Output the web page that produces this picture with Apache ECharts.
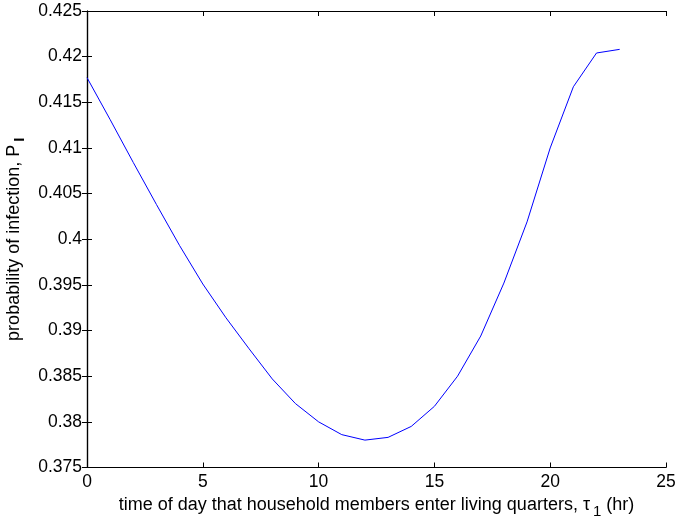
<!DOCTYPE html>
<html>
<head>
<meta charset="utf-8">
<script src="https://cdn.jsdelivr.net/npm/echarts@6/dist/echarts.min.js"></script>
<style>html,body{margin:0;padding:0;background:#fff}#c{width:675px;height:519px}</style>
</head>
<body>
<div id="c"></div>
<script>
const hours = [0,1,2,3,4,5,6,7,8,9,10,11,12,13,14,15,16,17,18,19,20,21,22,23];
const probInfection = [0.4177,0.4131,0.4084,0.4038,0.3993,0.3951,0.3914,0.3880,0.3847,0.3820,0.3800,0.3786,0.3780,0.3783,0.3795,0.3817,0.3850,0.3894,0.3952,0.4019,0.4100,0.4167,0.4204,0.4208];
const xTicks = [0,5,10,15,20,25];
const yTicks = [0.375,0.38,0.385,0.39,0.395,0.4,0.405,0.41,0.415,0.42,0.425];

const font = 'Liberation Sans, Arial, Helvetica, sans-serif';
const chart = echarts.init(document.getElementById('c'));
const tickStyle = {show:true, inside:true, length:5, lineStyle:{color:'#000', width:1}};
chart.setOption({
  animation:false,
  backgroundColor:'#fff',
  grid:{left:87, top:11, right:9, bottom:51.5, containLabel:false, outerBoundsMode:'none'},
  xAxis:[{
    type:'value', min:0, max:25, interval:5,
    axisLine:{show:true, onZero:false, lineStyle:{color:'#000', width:1.2}},
    axisTick:tickStyle, splitLine:{show:false},
    axisLabel:{color:'#000', fontSize:17.5, fontFamily:font, margin:6,
      formatter:v=>xTicks.includes(v)?String(v):''},
    name:'{t|time of day that household members enter living quarters, τ}{s|1}{t| (hr)}',
    nameLocation:'middle', nameGap:24,
    nameTextStyle:{rich:{t:{fontSize:18, fontFamily:font, color:'#000'}, s:{fontSize:15, fontFamily:font, color:'#000', padding:[12,0,0,3]}}}
  },{
    type:'value', position:'top', min:0, max:25, interval:5,
    axisLine:{show:true, lineStyle:{color:'#000', width:1.2}},
    axisTick:tickStyle, axisLabel:{show:false}, splitLine:{show:false}
  }],
  yAxis:[{
    type:'value', min:0.375, max:0.425, interval:0.005,
    axisLine:{show:true, onZero:false, lineStyle:{color:'#000', width:1.2}},
    axisTick:tickStyle, splitLine:{show:false},
    axisLabel:{color:'#000', fontSize:17.5, fontFamily:font, margin:5,
      formatter:v=>{const r=Math.round(v*1000)/1000; return yTicks.includes(r)?String(r):'';}},
    name:'{t|probability of infection, P}{s|I}',
    nameLocation:'middle', nameGap:43,
    nameTextStyle:{rich:{t:{fontSize:18, fontFamily:font, color:'#000'}, s:{fontSize:15, fontFamily:font, color:'#000', fontWeight:'bold', padding:[12,0,0,3]}}}
  },{
    type:'value', position:'right', min:0.375, max:0.425, interval:0.005,
    axisLine:{show:true, lineStyle:{color:'#000', width:1.2}},
    axisTick:tickStyle, axisLabel:{show:false}, splitLine:{show:false}
  }],
  series:[{
    type:'line', xAxisIndex:0, yAxisIndex:0,
    data:hours.map((h,i)=>[h, probInfection[i]]),
    showSymbol:false, symbol:'none', smooth:false,
    lineStyle:{color:'#0000ff', width:1}
  }]
});
</script>
</body>
</html>
